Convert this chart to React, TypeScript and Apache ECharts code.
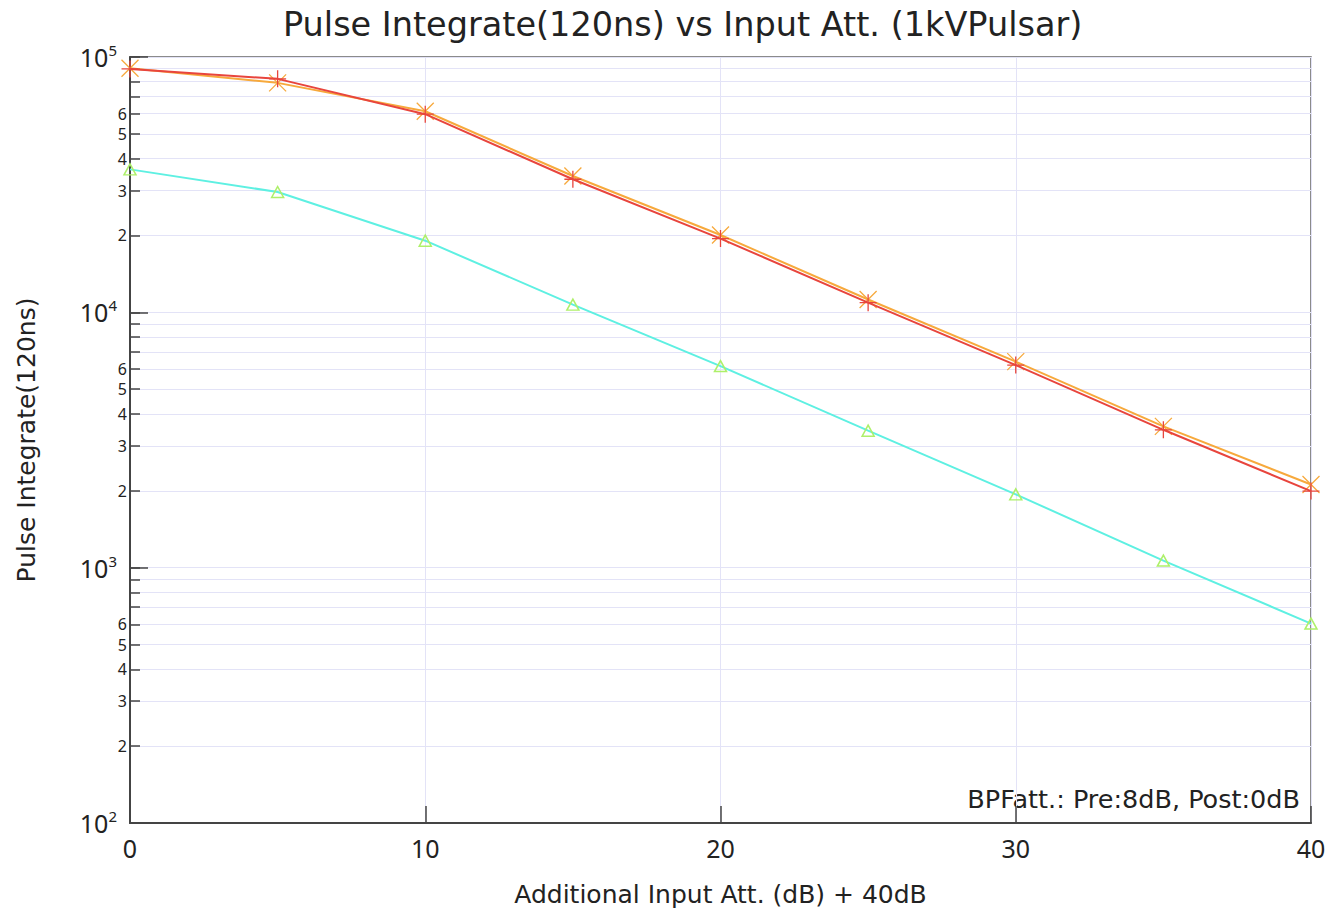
import React, { useEffect, useRef } from 'react';
import * as echarts from 'echarts';

const xValues = [0, 5, 10, 15, 20, 25, 30, 35, 40];
const redValues = [89800, 82100, 59700, 33200, 19450, 10910, 6215, 3467, 1995];
const orangeValues = [90400, 79200, 61300, 34200, 20080, 11230, 6410, 3577, 2118];
const cyanValues = [36300, 29600, 19080, 10720, 6160, 3440, 1937, 1066, 604];

const decades = [100, 1000, 10000, 100000];
const minorMultipliers = [2, 3, 4, 5, 6, 7, 8, 9];
const labeledMultipliers = [2, 3, 4, 5, 6];

const titleText = 'Pulse Integrate(120ns) vs Input Att. (1kVPulsar)';
const xName = 'Additional Input Att. (dB) + 40dB';
const yName = 'Pulse Integrate(120ns)';
const noteText = 'BPFatt.: Pre:8dB, Post:0dB';

const FONT = '"Noto Sans", "DejaVu Sans", sans-serif';
const WIDE = '"DejaVu Sans", "Noto Sans", sans-serif';

const minorTickValues: number[] = [];
const labelValues: number[] = [...decades];
decades.slice(0, 3).forEach((d) => {
  minorMultipliers.forEach((m) => minorTickValues.push(d * m));
  labeledMultipliers.forEach((m) => labelValues.push(d * m));
});
const allTickValues = [...decades, ...minorTickValues].sort((a, b) => a - b);
labelValues.sort((a, b) => a - b);

const pair = (vals: number[]) => xValues.map((x, i) => [x, vals[i]]);

const plusSymbol = 'path://M8,0 L8,16 M0,8 L16,8';
const crossSymbol = 'path://M0,0 L16,16 M16,0 L0,16';
const triSymbol = 'path://M5,0 L10,9 L0,9 Z';

export default function App() {
  const ref = useRef<HTMLDivElement>(null);
  useEffect(() => {
    if (!ref.current) return;
    const chart = echarts.init(ref.current, undefined, { renderer: 'svg' });
    const gridColor = '#e3e3f7';
    const axisColor = '#444';
    chart.setOption({
      animation: false,
      backgroundColor: '#fff',
      textStyle: { fontFamily: FONT },
      title: {
        text: titleText,
        left: 278,
        top: 2,
        textStyle: { fontFamily: WIDE, fontSize: 33.5, fontWeight: 'normal', color: '#222' },
      },
      grid: {
        left: 130,
        right: 19,
        top: 57,
        bottom: 85,
        show: true,
        borderColor: '#666',
        borderWidth: 1.5,
        containLabel: false,
      },
      xAxis: {
        type: 'value',
        min: 0,
        max: 40,
        interval: 10,
        name: xName,
        nameLocation: 'middle',
        nameGap: 59,
        nameTextStyle: { fontFamily: WIDE, fontSize: 25, color: '#222' },
        axisLine: { show: true, lineStyle: { color: axisColor, width: 2 } },
        axisTick: { show: true, inside: true, length: 17, lineStyle: { color: axisColor, width: 1.5 } },
        axisLabel: { fontFamily: FONT, fontSize: 25, color: '#222', margin: 12 },
        splitLine: { show: true, lineStyle: { color: gridColor, width: 1 } },
      },
      yAxis: [
        {
          type: 'log',
          logBase: 10,
          min: 100,
          max: 100000,
          name: yName,
          nameLocation: 'middle',
          nameGap: 91,
          nameTextStyle: { fontFamily: WIDE, fontSize: 25, color: '#222' },
          axisLine: { show: true, lineStyle: { color: axisColor, width: 2 } },
          axisTick: {
            show: true,
            inside: true,
            length: 10,
            customValues: allTickValues,
            lineStyle: { color: axisColor, width: 1.5 },
          },
          axisLabel: {
            customValues: labelValues,
            margin: 3,
            color: '#222',
            formatter: (value: number) => {
              const e = Math.round(Math.log10(value));
              if (Math.abs(value - Math.pow(10, e)) < 1e-6 * value) {
                return `{b|10}{sup|${e}}`;
              }
              const p = Math.floor(Math.log10(value) + 1e-9);
              return `{m|${Math.round(value / Math.pow(10, p))}}`;
            },
            rich: {
              b: { fontFamily: FONT, fontSize: 25, color: '#222' },
              sup: { fontFamily: FONT, fontSize: 15, color: '#222', padding: [0, 10, 14, 0] },
              m: { fontFamily: FONT, fontSize: 16, color: '#222' },
            },
          },
          splitLine: { show: true, lineStyle: { color: gridColor, width: 1 } },
        },
        {
          type: 'log',
          logBase: 10,
          min: 100,
          max: 100000,
          position: 'left',
          axisLine: { show: false },
          axisLabel: { show: false },
          splitLine: { show: false },
          axisTick: {
            show: true,
            inside: true,
            length: 18,
            customValues: decades,
            lineStyle: { color: axisColor, width: 1.5 },
          },
        },
      ],
      graphic: [
        {
          type: 'text',
          right: 30,
          top: 786,
          style: {
            text: noteText,
            fontFamily: WIDE,
            fontSize: 25.5,
            fill: '#222',
          },
        },
      ],
      series: [
        {
          name: 'cyan',
          type: 'line',
          data: pair(cyanValues),
          symbol: triSymbol,
          symbolSize: [12, 11],
          lineStyle: { color: '#5ef0e2', width: 2 },
          itemStyle: { color: 'transparent', borderColor: '#aef06a', borderWidth: 1.5 },
          z: 3,
        },
        {
          name: 'orange',
          type: 'line',
          data: pair(orangeValues),
          symbol: crossSymbol,
          symbolSize: 17,
          lineStyle: { color: '#f7a93c', width: 2 },
          itemStyle: { color: 'transparent', borderColor: '#f7a93c', borderWidth: 1.3 },
          z: 4,
        },
        {
          name: 'red',
          type: 'line',
          data: pair(redValues),
          symbol: plusSymbol,
          symbolSize: 17,
          lineStyle: { color: '#e8453d', width: 2 },
          itemStyle: { color: 'transparent', borderColor: '#e8453d', borderWidth: 1.3 },
          z: 5,
        },
      ],
    });
    return () => chart.dispose();
  }, []);
  return (
    <div
      ref={ref}
      style={{ position: 'fixed', left: 0, top: 0, width: 1330, height: 912, background: '#fff' }}
    />
  );
}
